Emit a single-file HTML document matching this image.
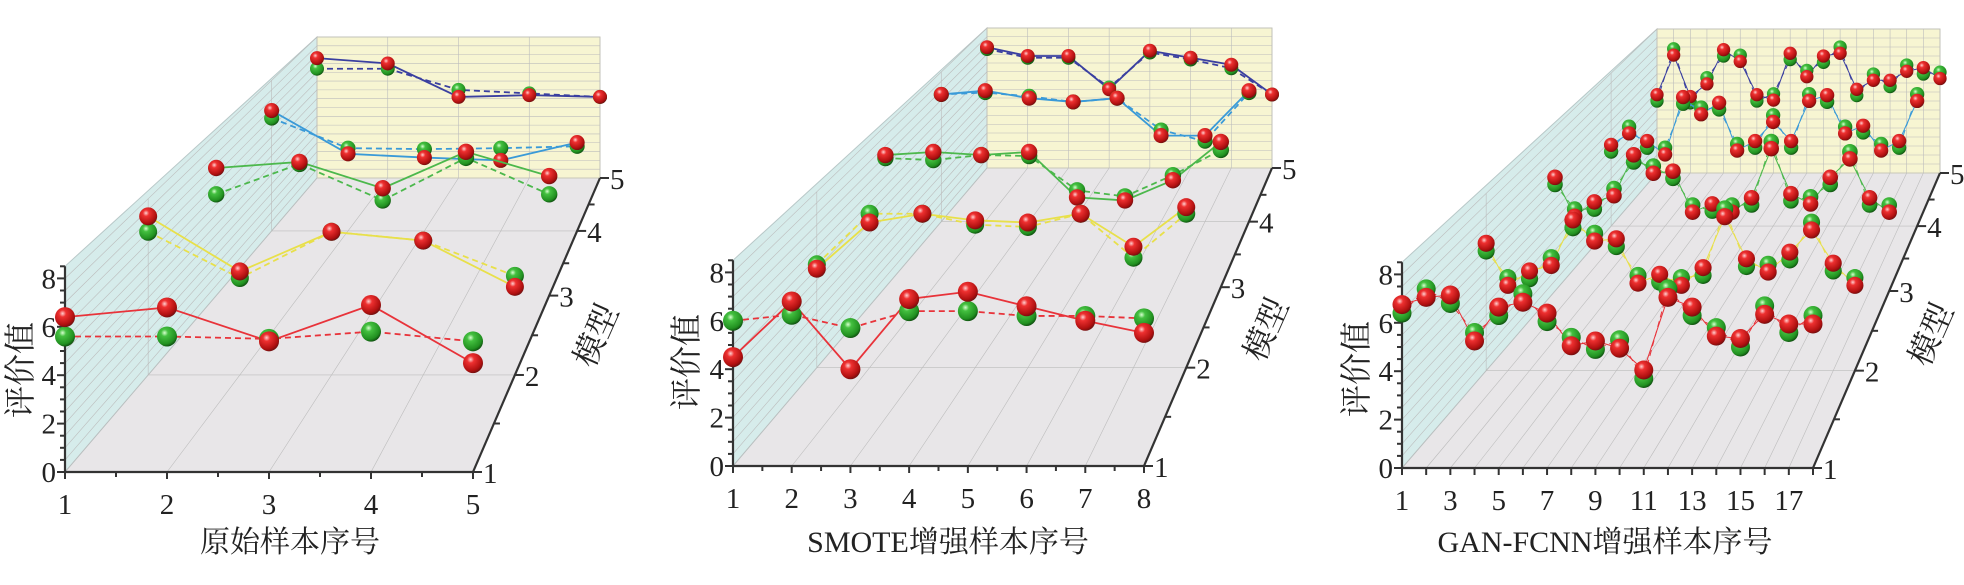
<!DOCTYPE html>
<html><head><meta charset="utf-8">
<style>
html,body{margin:0;padding:0;background:#fff;}
svg{display:block;}
text{font-family:"Liberation Serif","Noto Serif CJK SC",serif;fill:#222;}
</style></head>
<body>
<svg id="s" width="1964" height="585" viewBox="0 0 1964 585" xmlns="http://www.w3.org/2000/svg">
<defs>
<radialGradient id="gr" cx="38%" cy="32%" r="70%"><stop offset="0" stop-color="#ffd0d0"/><stop offset="0.25" stop-color="#ee3030"/><stop offset="0.8" stop-color="#b01010"/><stop offset="1" stop-color="#701010"/></radialGradient>
<radialGradient id="gg" cx="38%" cy="32%" r="70%"><stop offset="0" stop-color="#d8ffd0"/><stop offset="0.25" stop-color="#44c040"/><stop offset="0.8" stop-color="#219020"/><stop offset="1" stop-color="#105010"/></radialGradient>
</defs>
<g id="g"></g>
<text x="290" y="552" font-size="30" text-anchor="middle">原始样本序号</text>
<text x="948" y="552" font-size="30" text-anchor="middle">SMOTE增强样本序号</text>
<text x="1605" y="552" font-size="30" text-anchor="middle">GAN-FCNN增强样本序号</text>
<text transform="translate(31,370) rotate(-90)" font-size="32" text-anchor="middle">评价值</text>
<text transform="translate(697,362) rotate(-90)" font-size="32" text-anchor="middle">评价值</text>
<text transform="translate(1367,369) rotate(-90)" font-size="32" text-anchor="middle">评价值</text>
<text transform="translate(606,340) rotate(-66)" font-size="32" text-anchor="middle">模型</text>
<text transform="translate(1276,334) rotate(-66)" font-size="32" text-anchor="middle">模型</text>
<text transform="translate(1941,339) rotate(-66)" font-size="32" text-anchor="middle">模型</text>
</svg>
<script>
var T=[0,0.33,0.6,0.82,1];
var COL=['#e8333a','#e8e04a','#4cb84c','#3a9ad8','#3a3fa0'];
var out='';
function L(a,b,t){return a+(b-a)*t;}
function chart(c,D,lw,xlabels){
 var hF=24.2,hB=(c.yb0-c.topB)/8;
 var xr=c.x0+c.W, xbr=c.xb0+c.Wb;
 function P(i,t,v){var sp=L(c.W,c.Wb,t)/(c.n-1);return [L(c.x0,c.xb0,t)+i*sp, L(c.y0,c.yb0,t)-v*L(hF,hB,t)];}
 var topF=c.y0-8.5*hF;
 out+='<polygon points="'+c.x0+','+c.y0+' '+xr+','+c.y0+' '+xbr+','+c.yb0+' '+c.xb0+','+c.yb0+'" fill="#e8e6e8"/>';
 out+='<polygon points="'+c.x0+','+c.y0+' '+c.x0+','+topF+' '+c.xb0+','+c.topB+' '+c.xb0+','+c.yb0+'" fill="#d6eceb" stroke="#b8c8c8" stroke-width="1"/>';
 out+='<polygon points="'+c.xb0+','+c.yb0+' '+xbr+','+c.yb0+' '+xbr+','+c.topB+' '+c.xb0+','+c.topB+'" fill="#f7f5d2" stroke="#c8c8b8" stroke-width="1"/>';
 var gs='stroke="#bcbcbc" stroke-width="0.6" fill="none"';
 for(var i=0;i<c.n;i++){var a=P(i,0,0),b=P(i,1,0),d=P(i,1,8);
  out+='<line x1="'+a[0]+'" y1="'+a[1]+'" x2="'+b[0]+'" y2="'+b[1]+'" '+gs+'/>';
  out+='<line x1="'+b[0]+'" y1="'+b[1]+'" x2="'+d[0]+'" y2="'+d[1]+'" '+gs+'/>';}
 for(var k=0.5;k<=8.01;k+=0.5){var a=P(0,0,k),b=P(0,1,k),d=P(c.n-1,1,k);
  out+='<line x1="'+a[0]+'" y1="'+a[1]+'" x2="'+b[0]+'" y2="'+b[1]+'" '+gs+'/>';
  out+='<line x1="'+b[0]+'" y1="'+b[1]+'" x2="'+d[0]+'" y2="'+d[1]+'" '+gs+'/>';}
 [1,3].forEach(function(m){var t=T[m],a=P(0,t,0),b=P(c.n-1,t,0),d=P(0,t,8);
  out+='<line x1="'+a[0]+'" y1="'+a[1]+'" x2="'+b[0]+'" y2="'+b[1]+'" '+gs+'/>';
  out+='<line x1="'+a[0]+'" y1="'+a[1]+'" x2="'+d[0]+'" y2="'+d[1]+'" '+gs+'/>';});
 var ax='stroke="#333" stroke-width="2.2" fill="none"';
 out+='<line x1="'+c.x0+'" y1="'+c.y0+'" x2="'+xr+'" y2="'+c.y0+'" '+ax+'/>';
 out+='<line x1="'+c.x0+'" y1="'+c.y0+'" x2="'+c.x0+'" y2="'+topF+'" '+ax+'/>';
 out+='<line x1="'+xr+'" y1="'+c.y0+'" x2="'+xbr+'" y2="'+c.yb0+'" '+ax+'/>';
 var sp=c.W/(c.n-1);
 var step=c.n>10?1:0.5;
 for(var q=0;q<=c.n-1+1e-6;q+=step){var x=c.x0+q*sp,maj=(Math.abs(q-Math.round(q))<1e-6);
  out+='<line x1="'+x+'" y1="'+c.y0+'" x2="'+x+'" y2="'+(c.y0+(maj?7:5))+'" stroke="#333" stroke-width="2"/>';}
 xlabels.forEach(function(v){var x=c.x0+(v-1)*sp;out+='<text x="'+x+'" y="'+(c.y0+42)+'" font-size="29" text-anchor="middle">'+v+'</text>';});
 for(var k=0;k<=8.5;k+=0.5){var y=c.y0-k*hF,maj=(k%2==0);
  out+='<line x1="'+c.x0+'" y1="'+y+'" x2="'+(c.x0-(maj?8:5))+'" y2="'+y+'" stroke="#333" stroke-width="2"/>';
  if(maj)out+='<text x="'+(c.x0-9)+'" y="'+(y+10)+'" font-size="29" text-anchor="end">'+k+'</text>';}
 for(var m=0;m<5;m++){var t=T[m],X=L(xr,xbr,t),Y=L(c.y0,c.yb0,t);
  out+='<line x1="'+X+'" y1="'+Y+'" x2="'+(X+9)+'" y2="'+Y+'" stroke="#333" stroke-width="2"/>';
  out+='<text x="'+(X+10)+'" y="'+(Y+11)+'" font-size="29">'+(m+1)+'</text>';
  if(m<4){var t2=(T[m]+T[m+1])/2,X2=L(xr,xbr,t2),Y2=L(c.y0,c.yb0,t2);
   out+='<line x1="'+X2+'" y1="'+Y2+'" x2="'+(X2+6)+'" y2="'+Y2+'" stroke="#333" stroke-width="2"/>';}}
 for(var m=4;m>=0;m--){var t=T[m],d=D[m];
  var pr=d.r.map(function(v,i){return P(i,t,v);}),pg=d.g.map(function(v,i){return P(i,t,v);});
  out+='<polyline points="'+pg.map(function(p){return p.join(',');}).join(' ')+'" fill="none" stroke="'+COL[m]+'" stroke-width="'+lw+'" stroke-dasharray="6,4"/>';
  out+='<polyline points="'+pr.map(function(p){return p.join(',');}).join(' ')+'" fill="none" stroke="'+COL[m]+'" stroke-width="'+lw+'"/>';
  var r=c.rad*(1-0.3*t);
  for(var i=0;i<pr.length;i++){
   out+='<circle cx="'+pg[i][0]+'" cy="'+pg[i][1]+'" r="'+r+'" fill="url(#gg)"/>';
   out+='<circle cx="'+pr[i][0]+'" cy="'+pr[i][1]+'" r="'+r+'" fill="url(#gr)"/>';}
 }
}
function off(a,s){return a.map(function(v,i){return v+((i%2)?s:-s);});}
chart({x0:65,y0:472,W:408,n:5,xb0:317,yb0:178,Wb:283,topB:37,rad:10},[
 {r:[6.4,6.8,5.4,6.9,4.5],g:[5.6,5.6,5.5,5.8,5.4]},
 {r:[7.2,4.7,6.5,6.1,4.0],g:[6.5,4.4,6.5,6.1,4.5]},
 {r:[6.3,6.6,5.3,7.1,5.9],g:[5.0,6.5,4.7,6.8,5.0]},
 {r:[6.4,4.1,3.9,3.75,4.7],g:[6.0,4.4,4.35,4.4,4.5]},
 {r:[6.8,6.5,4.6,4.7,4.6],g:[6.2,6.2,5.0,4.8,4.6]}],1.8,[1,2,3,4,5]);
chart({x0:733,y0:466,W:411,n:8,xb0:987,yb0:168,Wb:285,topB:28,rad:10},[
 {r:[4.5,6.8,4.0,6.9,7.2,6.6,6.0,5.5],g:[6.0,6.25,5.7,6.4,6.4,6.2,6.2,6.1]},
 {r:[4.5,6.6,7.0,6.7,6.6,7.0,5.5,7.3],g:[4.7,7.0,7.0,6.5,6.4,7.0,5.0,7.0]},
 {r:[6.55,6.7,6.55,6.7,4.45,4.3,5.3,7.2],g:[6.4,6.3,6.55,6.5,4.8,4.5,5.55,6.8]},
 {r:[6.8,7.0,6.6,6.4,6.6,4.6,4.6,7.0],g:[6.8,6.9,6.7,6.4,6.6,4.9,4.3,6.9]},
 {r:[6.9,6.4,6.4,4.5,6.7,6.3,5.9,4.2],g:[6.8,6.3,6.3,4.6,6.6,6.2,5.7,4.2]}],1.8,[1,2,3,4,5,6,7,8]);
var d3=[[6.6,7.2,7.0,5.4,6.5,7.0,6.25,5.2,5.1,5.1,3.9,7.2,6.5,5.6,5.2,6.5,5.8,6.1],
[5.6,4.0,4.35,4.9,6.65,6.0,5.8,4.1,4.2,4.0,4.5,7.1,4.9,4.6,5.2,6.5,4.7,4.0],
[5.4,3.8,4.2,4.8,6.5,5.9,5.7,4.0,4.1,4.0,4.4,7.1,4.6,4.4,5.4,6.6,4.4,4.0],
[4.1,5.0,4.3,3.9,6.6,6.0,6.3,4.1,4.3,5.6,4.3,6.7,6.7,5.0,5.1,4.1,4.3,6.7],
[4.2,6.7,4.1,5.1,6.7,6.35,4.2,4.2,6.5,5.5,6.35,6.8,4.5,5.3,5.0,5.8,5.7,5.4]];
chart({x0:1402,y0:468,W:411,n:18,xb0:1657,yb0:173,Wb:283,topB:29,rad:9.5},
 d3.map(function(a){return {r:off(a,-0.15),g:off(a,0.2)};}),1,[1,3,5,7,9,11,13,15,17]);
document.getElementById('g').innerHTML=out;
</script>
</body></html>
